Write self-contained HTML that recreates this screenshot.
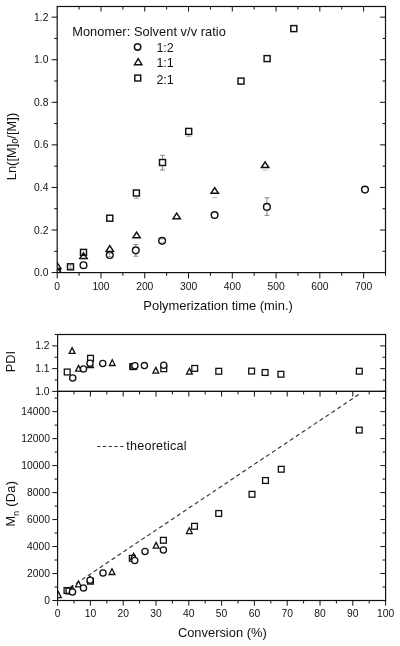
<!DOCTYPE html><html><head><meta charset="utf-8"><style>html,body{margin:0;padding:0;background:#fff;}svg{display:block;filter:grayscale(100%);}</style></head><body><svg width="400" height="646" viewBox="0 0 400 646" font-family="Liberation Sans, sans-serif" fill="#111">
<rect width="400" height="646" fill="#fff"/>
<defs><clipPath id="ct"><rect x="57.20" y="6.50" width="328.30" height="266.10"/></clipPath>
<clipPath id="cp"><rect x="57.60" y="334.50" width="328.00" height="56.90"/></clipPath>
<clipPath id="cm"><rect x="57.60" y="391.40" width="328.00" height="209.10"/></clipPath></defs>
<line x1="57.20" y1="272.60" x2="57.20" y2="278.40" stroke="#111" stroke-width="1.0" />
<line x1="79.09" y1="272.60" x2="79.09" y2="275.80" stroke="#111" stroke-width="1.0" />
<line x1="79.09" y1="6.50" x2="79.09" y2="9.50" stroke="#111" stroke-width="1.0" />
<line x1="100.97" y1="272.60" x2="100.97" y2="278.40" stroke="#111" stroke-width="1.0" />
<line x1="100.97" y1="6.50" x2="100.97" y2="11.50" stroke="#111" stroke-width="1.0" />
<line x1="122.86" y1="272.60" x2="122.86" y2="275.80" stroke="#111" stroke-width="1.0" />
<line x1="122.86" y1="6.50" x2="122.86" y2="9.50" stroke="#111" stroke-width="1.0" />
<line x1="144.75" y1="272.60" x2="144.75" y2="278.40" stroke="#111" stroke-width="1.0" />
<line x1="144.75" y1="6.50" x2="144.75" y2="11.50" stroke="#111" stroke-width="1.0" />
<line x1="166.63" y1="272.60" x2="166.63" y2="275.80" stroke="#111" stroke-width="1.0" />
<line x1="166.63" y1="6.50" x2="166.63" y2="9.50" stroke="#111" stroke-width="1.0" />
<line x1="188.52" y1="272.60" x2="188.52" y2="278.40" stroke="#111" stroke-width="1.0" />
<line x1="188.52" y1="6.50" x2="188.52" y2="11.50" stroke="#111" stroke-width="1.0" />
<line x1="210.41" y1="272.60" x2="210.41" y2="275.80" stroke="#111" stroke-width="1.0" />
<line x1="210.41" y1="6.50" x2="210.41" y2="9.50" stroke="#111" stroke-width="1.0" />
<line x1="232.29" y1="272.60" x2="232.29" y2="278.40" stroke="#111" stroke-width="1.0" />
<line x1="232.29" y1="6.50" x2="232.29" y2="11.50" stroke="#111" stroke-width="1.0" />
<line x1="254.18" y1="272.60" x2="254.18" y2="275.80" stroke="#111" stroke-width="1.0" />
<line x1="254.18" y1="6.50" x2="254.18" y2="9.50" stroke="#111" stroke-width="1.0" />
<line x1="276.07" y1="272.60" x2="276.07" y2="278.40" stroke="#111" stroke-width="1.0" />
<line x1="276.07" y1="6.50" x2="276.07" y2="11.50" stroke="#111" stroke-width="1.0" />
<line x1="297.95" y1="272.60" x2="297.95" y2="275.80" stroke="#111" stroke-width="1.0" />
<line x1="297.95" y1="6.50" x2="297.95" y2="9.50" stroke="#111" stroke-width="1.0" />
<line x1="319.84" y1="272.60" x2="319.84" y2="278.40" stroke="#111" stroke-width="1.0" />
<line x1="319.84" y1="6.50" x2="319.84" y2="11.50" stroke="#111" stroke-width="1.0" />
<line x1="341.73" y1="272.60" x2="341.73" y2="275.80" stroke="#111" stroke-width="1.0" />
<line x1="341.73" y1="6.50" x2="341.73" y2="9.50" stroke="#111" stroke-width="1.0" />
<line x1="363.61" y1="272.60" x2="363.61" y2="278.40" stroke="#111" stroke-width="1.0" />
<line x1="363.61" y1="6.50" x2="363.61" y2="11.50" stroke="#111" stroke-width="1.0" />
<line x1="385.50" y1="272.60" x2="385.50" y2="275.80" stroke="#111" stroke-width="1.0" />
<line x1="51.60" y1="272.60" x2="57.20" y2="272.60" stroke="#111" stroke-width="1.0" />
<line x1="54.20" y1="251.31" x2="57.20" y2="251.31" stroke="#111" stroke-width="1.0" />
<line x1="382.50" y1="251.31" x2="385.50" y2="251.31" stroke="#111" stroke-width="1.0" />
<line x1="51.60" y1="230.02" x2="57.20" y2="230.02" stroke="#111" stroke-width="1.0" />
<line x1="379.90" y1="230.02" x2="385.50" y2="230.02" stroke="#111" stroke-width="1.0" />
<line x1="54.20" y1="208.74" x2="57.20" y2="208.74" stroke="#111" stroke-width="1.0" />
<line x1="382.50" y1="208.74" x2="385.50" y2="208.74" stroke="#111" stroke-width="1.0" />
<line x1="51.60" y1="187.45" x2="57.20" y2="187.45" stroke="#111" stroke-width="1.0" />
<line x1="379.90" y1="187.45" x2="385.50" y2="187.45" stroke="#111" stroke-width="1.0" />
<line x1="54.20" y1="166.16" x2="57.20" y2="166.16" stroke="#111" stroke-width="1.0" />
<line x1="382.50" y1="166.16" x2="385.50" y2="166.16" stroke="#111" stroke-width="1.0" />
<line x1="51.60" y1="144.87" x2="57.20" y2="144.87" stroke="#111" stroke-width="1.0" />
<line x1="379.90" y1="144.87" x2="385.50" y2="144.87" stroke="#111" stroke-width="1.0" />
<line x1="54.20" y1="123.58" x2="57.20" y2="123.58" stroke="#111" stroke-width="1.0" />
<line x1="382.50" y1="123.58" x2="385.50" y2="123.58" stroke="#111" stroke-width="1.0" />
<line x1="51.60" y1="102.30" x2="57.20" y2="102.30" stroke="#111" stroke-width="1.0" />
<line x1="379.90" y1="102.30" x2="385.50" y2="102.30" stroke="#111" stroke-width="1.0" />
<line x1="54.20" y1="81.01" x2="57.20" y2="81.01" stroke="#111" stroke-width="1.0" />
<line x1="382.50" y1="81.01" x2="385.50" y2="81.01" stroke="#111" stroke-width="1.0" />
<line x1="51.60" y1="59.72" x2="57.20" y2="59.72" stroke="#111" stroke-width="1.0" />
<line x1="379.90" y1="59.72" x2="385.50" y2="59.72" stroke="#111" stroke-width="1.0" />
<line x1="54.20" y1="38.43" x2="57.20" y2="38.43" stroke="#111" stroke-width="1.0" />
<line x1="382.50" y1="38.43" x2="385.50" y2="38.43" stroke="#111" stroke-width="1.0" />
<line x1="51.60" y1="17.14" x2="57.20" y2="17.14" stroke="#111" stroke-width="1.0" />
<line x1="379.90" y1="17.14" x2="385.50" y2="17.14" stroke="#111" stroke-width="1.0" />
<text x="57.20" y="289.60" font-size="10.3" text-anchor="middle" >0</text>
<text x="100.97" y="289.60" font-size="10.3" text-anchor="middle" >100</text>
<text x="144.75" y="289.60" font-size="10.3" text-anchor="middle" >200</text>
<text x="188.52" y="289.60" font-size="10.3" text-anchor="middle" >300</text>
<text x="232.29" y="289.60" font-size="10.3" text-anchor="middle" >400</text>
<text x="276.07" y="289.60" font-size="10.3" text-anchor="middle" >500</text>
<text x="319.84" y="289.60" font-size="10.3" text-anchor="middle" >600</text>
<text x="363.61" y="289.60" font-size="10.3" text-anchor="middle" >700</text>
<text x="48.40" y="276.20" font-size="10.3" text-anchor="end" >0.0</text>
<text x="48.40" y="233.62" font-size="10.3" text-anchor="end" >0.2</text>
<text x="48.40" y="191.05" font-size="10.3" text-anchor="end" >0.4</text>
<text x="48.40" y="148.47" font-size="10.3" text-anchor="end" >0.6</text>
<text x="48.40" y="105.90" font-size="10.3" text-anchor="end" >0.8</text>
<text x="48.40" y="63.32" font-size="10.3" text-anchor="end" >1.0</text>
<text x="48.40" y="20.74" font-size="10.3" text-anchor="end" >1.2</text>
<rect x="57.20" y="6.50" width="328.30" height="266.10" fill="none" stroke="#111" stroke-width="1.2"/>
<text x="218.10" y="310.30" font-size="12.95" text-anchor="middle" >Polymerization time (min.)</text>
<text transform="translate(15.5,180.3) rotate(-90)" font-size="12.8" letter-spacing="0.08">Ln([M]<tspan font-size="8.5" dy="2.9">0</tspan><tspan dy="-2.9">/[M])</tspan></text>
<text x="72.20" y="36.40" font-size="12.8" text-anchor="start" letter-spacing="0.06">Monomer: Solvent v/v ratio</text>
<circle cx="137.60" cy="47.00" r="3.2" fill="none" stroke="#111" stroke-width="1.45"/>
<path d="M138.20,58.68 L141.90,64.68 L134.50,64.68 Z" fill="none" stroke="#111" stroke-width="1.45" stroke-linejoin="miter"/>
<rect x="134.80" y="75.10" width="5.90" height="5.90" fill="none" stroke="#111" stroke-width="1.45"/>
<text x="156.40" y="51.80" font-size="12.5" text-anchor="start" >1:2</text>
<text x="156.40" y="67.40" font-size="12.5" text-anchor="start" >1:1</text>
<text x="156.40" y="83.50" font-size="12.5" text-anchor="start" >2:1</text>
<g clip-path="url(#ct)">
<line x1="135.80" y1="244.50" x2="135.80" y2="246.40" stroke="#777" stroke-width="0.9" />
<line x1="133.40" y1="244.50" x2="138.20" y2="244.50" stroke="#777" stroke-width="0.9" />
<line x1="135.80" y1="254.20" x2="135.80" y2="256.20" stroke="#777" stroke-width="0.9" />
<line x1="133.40" y1="256.20" x2="138.20" y2="256.20" stroke="#777" stroke-width="0.9" />
<line x1="162.50" y1="155.30" x2="162.50" y2="158.60" stroke="#777" stroke-width="0.9" />
<line x1="160.10" y1="155.30" x2="164.90" y2="155.30" stroke="#777" stroke-width="0.9" />
<line x1="162.50" y1="166.40" x2="162.50" y2="170.00" stroke="#777" stroke-width="0.9" />
<line x1="160.10" y1="170.00" x2="164.90" y2="170.00" stroke="#777" stroke-width="0.9" />
<line x1="266.90" y1="197.80" x2="266.90" y2="203.00" stroke="#777" stroke-width="0.9" />
<line x1="264.50" y1="197.80" x2="269.30" y2="197.80" stroke="#777" stroke-width="0.9" />
<line x1="266.90" y1="210.80" x2="266.90" y2="215.40" stroke="#777" stroke-width="0.9" />
<line x1="264.50" y1="215.40" x2="269.30" y2="215.40" stroke="#777" stroke-width="0.9" />
<line x1="188.70" y1="135.30" x2="188.70" y2="136.30" stroke="#999" stroke-width="0.9" />
<line x1="186.30" y1="136.30" x2="191.10" y2="136.30" stroke="#999" stroke-width="0.9" />
<line x1="136.40" y1="196.90" x2="136.40" y2="198.40" stroke="#999" stroke-width="0.9" />
<line x1="134.00" y1="198.40" x2="138.80" y2="198.40" stroke="#999" stroke-width="0.9" />
<line x1="262.70" y1="170.10" x2="267.50" y2="170.10" stroke="#aaa" stroke-width="0.9" />
<line x1="212.30" y1="197.60" x2="217.10" y2="197.60" stroke="#aaa" stroke-width="0.9" />
<line x1="160.10" y1="239.00" x2="164.10" y2="239.00" stroke="#aaa" stroke-width="0.9" />
<line x1="160.10" y1="242.60" x2="164.10" y2="242.60" stroke="#aaa" stroke-width="0.9" />
<line x1="109.80" y1="253.40" x2="109.80" y2="255.00" stroke="#999" stroke-width="0.9" />
<line x1="107.80" y1="253.40" x2="111.80" y2="253.40" stroke="#999" stroke-width="0.9" />
<line x1="109.80" y1="255.00" x2="109.80" y2="256.60" stroke="#999" stroke-width="0.9" />
<line x1="107.80" y1="256.60" x2="111.80" y2="256.60" stroke="#999" stroke-width="0.9" />
<line x1="81.50" y1="254.50" x2="85.50" y2="254.50" stroke="#aaa" stroke-width="0.9" />
<line x1="81.50" y1="259.00" x2="85.50" y2="259.00" stroke="#aaa" stroke-width="0.9" />
<line x1="70.50" y1="265.20" x2="70.50" y2="266.80" stroke="#999" stroke-width="0.9" />
<line x1="68.70" y1="265.20" x2="72.30" y2="265.20" stroke="#999" stroke-width="0.9" />
<line x1="70.50" y1="266.80" x2="70.50" y2="268.40" stroke="#999" stroke-width="0.9" />
<line x1="68.70" y1="268.40" x2="72.30" y2="268.40" stroke="#999" stroke-width="0.9" />
<circle cx="57.20" cy="272.60" r="3.35" fill="none" stroke="#111" stroke-width="1.45"/>
<circle cx="83.50" cy="265.20" r="3.35" fill="none" stroke="#111" stroke-width="1.45"/>
<circle cx="109.80" cy="255.00" r="3.35" fill="none" stroke="#111" stroke-width="1.45"/>
<circle cx="135.80" cy="250.30" r="3.35" fill="none" stroke="#111" stroke-width="1.45"/>
<circle cx="162.10" cy="240.80" r="3.35" fill="none" stroke="#111" stroke-width="1.45"/>
<circle cx="214.60" cy="215.00" r="3.35" fill="none" stroke="#111" stroke-width="1.45"/>
<circle cx="266.90" cy="206.90" r="3.35" fill="none" stroke="#111" stroke-width="1.45"/>
<circle cx="365.00" cy="189.60" r="3.35" fill="none" stroke="#111" stroke-width="1.45"/>
<path d="M57.30,262.77 L61.00,268.47 L53.60,268.47 Z" fill="none" stroke="#111" stroke-width="1.45" stroke-linejoin="miter"/>
<path d="M83.50,252.77 L87.20,258.47 L79.80,258.47 Z" fill="none" stroke="#111" stroke-width="1.45" stroke-linejoin="miter"/>
<path d="M109.80,245.67 L113.50,251.37 L106.10,251.37 Z" fill="none" stroke="#111" stroke-width="1.45" stroke-linejoin="miter"/>
<path d="M136.60,232.07 L140.30,237.77 L132.90,237.77 Z" fill="none" stroke="#111" stroke-width="1.45" stroke-linejoin="miter"/>
<path d="M176.70,213.07 L180.40,218.77 L173.00,218.77 Z" fill="none" stroke="#111" stroke-width="1.45" stroke-linejoin="miter"/>
<path d="M214.70,187.57 L218.40,193.27 L211.00,193.27 Z" fill="none" stroke="#111" stroke-width="1.45" stroke-linejoin="miter"/>
<path d="M265.10,161.87 L268.80,167.57 L261.40,167.57 Z" fill="none" stroke="#111" stroke-width="1.45" stroke-linejoin="miter"/>
<rect x="54.20" y="269.60" width="6.00" height="6.00" fill="none" stroke="#111" stroke-width="1.45"/>
<rect x="67.50" y="263.80" width="6.00" height="6.00" fill="none" stroke="#111" stroke-width="1.45"/>
<rect x="80.50" y="249.40" width="6.00" height="6.00" fill="none" stroke="#111" stroke-width="1.45"/>
<rect x="106.80" y="215.20" width="6.00" height="6.00" fill="none" stroke="#111" stroke-width="1.45"/>
<rect x="133.40" y="190.00" width="6.00" height="6.00" fill="none" stroke="#111" stroke-width="1.45"/>
<rect x="159.50" y="159.50" width="6.00" height="6.00" fill="none" stroke="#111" stroke-width="1.45"/>
<rect x="185.70" y="128.40" width="6.00" height="6.00" fill="none" stroke="#111" stroke-width="1.45"/>
<rect x="238.00" y="78.10" width="6.00" height="6.00" fill="none" stroke="#111" stroke-width="1.45"/>
<rect x="264.10" y="55.60" width="6.00" height="6.00" fill="none" stroke="#111" stroke-width="1.45"/>
<rect x="290.80" y="25.60" width="6.00" height="6.00" fill="none" stroke="#111" stroke-width="1.45"/>
</g>
<line x1="52.20" y1="391.40" x2="57.60" y2="391.40" stroke="#111" stroke-width="1.0" />
<line x1="380.20" y1="391.40" x2="385.60" y2="391.40" stroke="#111" stroke-width="1.0" />
<line x1="54.60" y1="380.02" x2="57.60" y2="380.02" stroke="#111" stroke-width="1.0" />
<line x1="382.60" y1="380.02" x2="385.60" y2="380.02" stroke="#111" stroke-width="1.0" />
<line x1="52.20" y1="368.64" x2="57.60" y2="368.64" stroke="#111" stroke-width="1.0" />
<line x1="380.20" y1="368.64" x2="385.60" y2="368.64" stroke="#111" stroke-width="1.0" />
<line x1="54.60" y1="357.26" x2="57.60" y2="357.26" stroke="#111" stroke-width="1.0" />
<line x1="382.60" y1="357.26" x2="385.60" y2="357.26" stroke="#111" stroke-width="1.0" />
<line x1="52.20" y1="345.88" x2="57.60" y2="345.88" stroke="#111" stroke-width="1.0" />
<line x1="380.20" y1="345.88" x2="385.60" y2="345.88" stroke="#111" stroke-width="1.0" />
<line x1="54.60" y1="334.50" x2="57.60" y2="334.50" stroke="#111" stroke-width="1.0" />
<line x1="382.60" y1="334.50" x2="385.60" y2="334.50" stroke="#111" stroke-width="1.0" />
<text x="49.60" y="395.00" font-size="10.3" text-anchor="end" >1.0</text>
<text x="49.60" y="372.24" font-size="10.3" text-anchor="end" >1.1</text>
<text x="49.60" y="349.48" font-size="10.3" text-anchor="end" >1.2</text>
<rect x="57.60" y="334.50" width="328.00" height="56.90" fill="none" stroke="#111" stroke-width="1.2"/>
<text transform="translate(15.3,372.2) rotate(-90)" font-size="12.8">PDI</text>
<g clip-path="url(#cp)">
<path d="M72.10,347.60 L75.00,353.40 L69.20,353.40 Z" fill="none" stroke="#111" stroke-width="1.3" stroke-linejoin="miter"/>
<path d="M78.50,365.40 L81.40,371.20 L75.60,371.20 Z" fill="none" stroke="#111" stroke-width="1.3" stroke-linejoin="miter"/>
<path d="M90.50,361.70 L93.40,367.50 L87.60,367.50 Z" fill="none" stroke="#111" stroke-width="1.3" stroke-linejoin="miter"/>
<path d="M112.25,359.70 L115.15,365.50 L109.35,365.50 Z" fill="none" stroke="#111" stroke-width="1.3" stroke-linejoin="miter"/>
<path d="M155.80,367.40 L158.70,373.20 L152.90,373.20 Z" fill="none" stroke="#111" stroke-width="1.3" stroke-linejoin="miter"/>
<path d="M189.40,368.40 L192.30,374.20 L186.50,374.20 Z" fill="none" stroke="#111" stroke-width="1.3" stroke-linejoin="miter"/>
<rect x="64.30" y="369.10" width="5.80" height="5.80" fill="none" stroke="#111" stroke-width="1.3"/>
<rect x="87.60" y="355.40" width="5.80" height="5.80" fill="none" stroke="#111" stroke-width="1.3"/>
<rect x="129.80" y="363.70" width="5.80" height="5.80" fill="none" stroke="#111" stroke-width="1.3"/>
<rect x="130.80" y="363.60" width="5.80" height="5.80" fill="none" stroke="#111" stroke-width="1.3"/>
<rect x="160.85" y="365.85" width="5.80" height="5.80" fill="none" stroke="#111" stroke-width="1.3"/>
<rect x="191.80" y="365.50" width="5.80" height="5.80" fill="none" stroke="#111" stroke-width="1.3"/>
<rect x="215.85" y="368.35" width="5.80" height="5.80" fill="none" stroke="#111" stroke-width="1.3"/>
<rect x="248.70" y="368.20" width="5.80" height="5.80" fill="none" stroke="#111" stroke-width="1.3"/>
<rect x="262.20" y="369.60" width="5.80" height="5.80" fill="none" stroke="#111" stroke-width="1.3"/>
<rect x="278.00" y="371.35" width="5.80" height="5.80" fill="none" stroke="#111" stroke-width="1.3"/>
<rect x="356.40" y="368.30" width="5.80" height="5.80" fill="none" stroke="#111" stroke-width="1.3"/>
<circle cx="72.70" cy="378.00" r="3.1" fill="#fff" stroke="#111" stroke-width="1.3"/>
<circle cx="83.50" cy="369.00" r="3.1" fill="#fff" stroke="#111" stroke-width="1.3"/>
<circle cx="90.00" cy="363.30" r="3.1" fill="#fff" stroke="#111" stroke-width="1.3"/>
<circle cx="102.75" cy="363.50" r="3.1" fill="#fff" stroke="#111" stroke-width="1.3"/>
<circle cx="134.90" cy="365.70" r="3.1" fill="#fff" stroke="#111" stroke-width="1.3"/>
<circle cx="144.40" cy="365.60" r="3.1" fill="#fff" stroke="#111" stroke-width="1.3"/>
<circle cx="163.75" cy="365.25" r="3.1" fill="#fff" stroke="#111" stroke-width="1.3"/>
</g>
<line x1="57.60" y1="600.50" x2="57.60" y2="605.70" stroke="#111" stroke-width="1.0" />
<line x1="57.60" y1="391.40" x2="57.60" y2="396.60" stroke="#111" stroke-width="1.0" />
<line x1="74.00" y1="600.50" x2="74.00" y2="603.50" stroke="#111" stroke-width="1.0" />
<line x1="74.00" y1="391.40" x2="74.00" y2="394.40" stroke="#111" stroke-width="1.0" />
<line x1="90.40" y1="600.50" x2="90.40" y2="605.70" stroke="#111" stroke-width="1.0" />
<line x1="90.40" y1="391.40" x2="90.40" y2="396.60" stroke="#111" stroke-width="1.0" />
<line x1="106.80" y1="600.50" x2="106.80" y2="603.50" stroke="#111" stroke-width="1.0" />
<line x1="106.80" y1="391.40" x2="106.80" y2="394.40" stroke="#111" stroke-width="1.0" />
<line x1="123.20" y1="600.50" x2="123.20" y2="605.70" stroke="#111" stroke-width="1.0" />
<line x1="123.20" y1="391.40" x2="123.20" y2="396.60" stroke="#111" stroke-width="1.0" />
<line x1="139.60" y1="600.50" x2="139.60" y2="603.50" stroke="#111" stroke-width="1.0" />
<line x1="139.60" y1="391.40" x2="139.60" y2="394.40" stroke="#111" stroke-width="1.0" />
<line x1="156.00" y1="600.50" x2="156.00" y2="605.70" stroke="#111" stroke-width="1.0" />
<line x1="156.00" y1="391.40" x2="156.00" y2="396.60" stroke="#111" stroke-width="1.0" />
<line x1="172.40" y1="600.50" x2="172.40" y2="603.50" stroke="#111" stroke-width="1.0" />
<line x1="172.40" y1="391.40" x2="172.40" y2="394.40" stroke="#111" stroke-width="1.0" />
<line x1="188.80" y1="600.50" x2="188.80" y2="605.70" stroke="#111" stroke-width="1.0" />
<line x1="188.80" y1="391.40" x2="188.80" y2="396.60" stroke="#111" stroke-width="1.0" />
<line x1="205.20" y1="600.50" x2="205.20" y2="603.50" stroke="#111" stroke-width="1.0" />
<line x1="205.20" y1="391.40" x2="205.20" y2="394.40" stroke="#111" stroke-width="1.0" />
<line x1="221.60" y1="600.50" x2="221.60" y2="605.70" stroke="#111" stroke-width="1.0" />
<line x1="221.60" y1="391.40" x2="221.60" y2="396.60" stroke="#111" stroke-width="1.0" />
<line x1="238.00" y1="600.50" x2="238.00" y2="603.50" stroke="#111" stroke-width="1.0" />
<line x1="238.00" y1="391.40" x2="238.00" y2="394.40" stroke="#111" stroke-width="1.0" />
<line x1="254.40" y1="600.50" x2="254.40" y2="605.70" stroke="#111" stroke-width="1.0" />
<line x1="254.40" y1="391.40" x2="254.40" y2="396.60" stroke="#111" stroke-width="1.0" />
<line x1="270.80" y1="600.50" x2="270.80" y2="603.50" stroke="#111" stroke-width="1.0" />
<line x1="270.80" y1="391.40" x2="270.80" y2="394.40" stroke="#111" stroke-width="1.0" />
<line x1="287.20" y1="600.50" x2="287.20" y2="605.70" stroke="#111" stroke-width="1.0" />
<line x1="287.20" y1="391.40" x2="287.20" y2="396.60" stroke="#111" stroke-width="1.0" />
<line x1="303.60" y1="600.50" x2="303.60" y2="603.50" stroke="#111" stroke-width="1.0" />
<line x1="303.60" y1="391.40" x2="303.60" y2="394.40" stroke="#111" stroke-width="1.0" />
<line x1="320.00" y1="600.50" x2="320.00" y2="605.70" stroke="#111" stroke-width="1.0" />
<line x1="320.00" y1="391.40" x2="320.00" y2="396.60" stroke="#111" stroke-width="1.0" />
<line x1="336.40" y1="600.50" x2="336.40" y2="603.50" stroke="#111" stroke-width="1.0" />
<line x1="336.40" y1="391.40" x2="336.40" y2="394.40" stroke="#111" stroke-width="1.0" />
<line x1="352.80" y1="600.50" x2="352.80" y2="605.70" stroke="#111" stroke-width="1.0" />
<line x1="352.80" y1="391.40" x2="352.80" y2="396.60" stroke="#111" stroke-width="1.0" />
<line x1="369.20" y1="600.50" x2="369.20" y2="603.50" stroke="#111" stroke-width="1.0" />
<line x1="369.20" y1="391.40" x2="369.20" y2="394.40" stroke="#111" stroke-width="1.0" />
<line x1="385.60" y1="600.50" x2="385.60" y2="605.70" stroke="#111" stroke-width="1.0" />
<line x1="385.60" y1="391.40" x2="385.60" y2="396.60" stroke="#111" stroke-width="1.0" />
<line x1="52.40" y1="600.50" x2="57.60" y2="600.50" stroke="#111" stroke-width="1.0" />
<line x1="380.40" y1="600.50" x2="385.60" y2="600.50" stroke="#111" stroke-width="1.0" />
<line x1="54.60" y1="587.01" x2="57.60" y2="587.01" stroke="#111" stroke-width="1.0" />
<line x1="382.60" y1="587.01" x2="385.60" y2="587.01" stroke="#111" stroke-width="1.0" />
<line x1="52.40" y1="573.52" x2="57.60" y2="573.52" stroke="#111" stroke-width="1.0" />
<line x1="380.40" y1="573.52" x2="385.60" y2="573.52" stroke="#111" stroke-width="1.0" />
<line x1="54.60" y1="560.03" x2="57.60" y2="560.03" stroke="#111" stroke-width="1.0" />
<line x1="382.60" y1="560.03" x2="385.60" y2="560.03" stroke="#111" stroke-width="1.0" />
<line x1="52.40" y1="546.54" x2="57.60" y2="546.54" stroke="#111" stroke-width="1.0" />
<line x1="380.40" y1="546.54" x2="385.60" y2="546.54" stroke="#111" stroke-width="1.0" />
<line x1="54.60" y1="533.05" x2="57.60" y2="533.05" stroke="#111" stroke-width="1.0" />
<line x1="382.60" y1="533.05" x2="385.60" y2="533.05" stroke="#111" stroke-width="1.0" />
<line x1="52.40" y1="519.56" x2="57.60" y2="519.56" stroke="#111" stroke-width="1.0" />
<line x1="380.40" y1="519.56" x2="385.60" y2="519.56" stroke="#111" stroke-width="1.0" />
<line x1="54.60" y1="506.07" x2="57.60" y2="506.07" stroke="#111" stroke-width="1.0" />
<line x1="382.60" y1="506.07" x2="385.60" y2="506.07" stroke="#111" stroke-width="1.0" />
<line x1="52.40" y1="492.58" x2="57.60" y2="492.58" stroke="#111" stroke-width="1.0" />
<line x1="380.40" y1="492.58" x2="385.60" y2="492.58" stroke="#111" stroke-width="1.0" />
<line x1="54.60" y1="479.09" x2="57.60" y2="479.09" stroke="#111" stroke-width="1.0" />
<line x1="382.60" y1="479.09" x2="385.60" y2="479.09" stroke="#111" stroke-width="1.0" />
<line x1="52.40" y1="465.60" x2="57.60" y2="465.60" stroke="#111" stroke-width="1.0" />
<line x1="380.40" y1="465.60" x2="385.60" y2="465.60" stroke="#111" stroke-width="1.0" />
<line x1="54.60" y1="452.11" x2="57.60" y2="452.11" stroke="#111" stroke-width="1.0" />
<line x1="382.60" y1="452.11" x2="385.60" y2="452.11" stroke="#111" stroke-width="1.0" />
<line x1="52.40" y1="438.62" x2="57.60" y2="438.62" stroke="#111" stroke-width="1.0" />
<line x1="380.40" y1="438.62" x2="385.60" y2="438.62" stroke="#111" stroke-width="1.0" />
<line x1="54.60" y1="425.13" x2="57.60" y2="425.13" stroke="#111" stroke-width="1.0" />
<line x1="382.60" y1="425.13" x2="385.60" y2="425.13" stroke="#111" stroke-width="1.0" />
<line x1="52.40" y1="411.64" x2="57.60" y2="411.64" stroke="#111" stroke-width="1.0" />
<line x1="380.40" y1="411.64" x2="385.60" y2="411.64" stroke="#111" stroke-width="1.0" />
<line x1="54.60" y1="398.15" x2="57.60" y2="398.15" stroke="#111" stroke-width="1.0" />
<line x1="382.60" y1="398.15" x2="385.60" y2="398.15" stroke="#111" stroke-width="1.0" />
<text x="57.60" y="616.90" font-size="10.3" text-anchor="middle" >0</text>
<text x="90.40" y="616.90" font-size="10.3" text-anchor="middle" >10</text>
<text x="123.20" y="616.90" font-size="10.3" text-anchor="middle" >20</text>
<text x="156.00" y="616.90" font-size="10.3" text-anchor="middle" >30</text>
<text x="188.80" y="616.90" font-size="10.3" text-anchor="middle" >40</text>
<text x="221.60" y="616.90" font-size="10.3" text-anchor="middle" >50</text>
<text x="254.40" y="616.90" font-size="10.3" text-anchor="middle" >60</text>
<text x="287.20" y="616.90" font-size="10.3" text-anchor="middle" >70</text>
<text x="320.00" y="616.90" font-size="10.3" text-anchor="middle" >80</text>
<text x="352.80" y="616.90" font-size="10.3" text-anchor="middle" >90</text>
<text x="385.60" y="616.90" font-size="10.3" text-anchor="middle" >100</text>
<text x="50.00" y="604.10" font-size="10.3" text-anchor="end" >0</text>
<text x="50.00" y="577.12" font-size="10.3" text-anchor="end" >2000</text>
<text x="50.00" y="550.14" font-size="10.3" text-anchor="end" >4000</text>
<text x="50.00" y="523.16" font-size="10.3" text-anchor="end" >6000</text>
<text x="50.00" y="496.18" font-size="10.3" text-anchor="end" >8000</text>
<text x="50.00" y="469.20" font-size="10.3" text-anchor="end" >10000</text>
<text x="50.00" y="442.22" font-size="10.3" text-anchor="end" >12000</text>
<text x="50.00" y="415.24" font-size="10.3" text-anchor="end" >14000</text>
<rect x="57.60" y="391.40" width="328.00" height="209.10" fill="none" stroke="#111" stroke-width="1.2"/>
<text x="222.30" y="637.10" font-size="12.9" text-anchor="middle" >Conversion (%)</text>
<text transform="translate(15.4,526.6) rotate(-90)" font-size="12.8" letter-spacing="0.3">M<tspan font-size="8.5" dy="3.2">n</tspan><tspan dy="-3.2"> (Da)</tspan></text>
<line x1="97.2" y1="446.5" x2="124" y2="446.5" stroke="#333" stroke-width="1" stroke-dasharray="3.25 2.5"/>
<text x="126.30" y="450.00" font-size="12.6" text-anchor="start" letter-spacing="0.22">theoretical</text>
<g clip-path="url(#cm)">
<line x1="358.75" y1="394.50" x2="68.00" y2="588.93" stroke="#333" stroke-width="1.15" stroke-dasharray="4.15 3.0"/>
<path d="M58.40,591.80 L61.30,597.60 L55.50,597.60 Z" fill="none" stroke="#111" stroke-width="1.3" stroke-linejoin="miter"/>
<path d="M72.30,586.20 L75.20,592.00 L69.40,592.00 Z" fill="none" stroke="#111" stroke-width="1.3" stroke-linejoin="miter"/>
<path d="M78.50,581.00 L81.40,586.80 L75.60,586.80 Z" fill="none" stroke="#111" stroke-width="1.3" stroke-linejoin="miter"/>
<path d="M90.10,576.30 L93.00,582.10 L87.20,582.10 Z" fill="none" stroke="#111" stroke-width="1.3" stroke-linejoin="miter"/>
<path d="M112.00,568.70 L114.90,574.50 L109.10,574.50 Z" fill="none" stroke="#111" stroke-width="1.3" stroke-linejoin="miter"/>
<path d="M133.60,553.20 L136.50,559.00 L130.70,559.00 Z" fill="none" stroke="#111" stroke-width="1.3" stroke-linejoin="miter"/>
<path d="M156.10,542.40 L159.00,548.20 L153.20,548.20 Z" fill="none" stroke="#111" stroke-width="1.3" stroke-linejoin="miter"/>
<path d="M189.30,527.80 L192.20,533.60 L186.40,533.60 Z" fill="none" stroke="#111" stroke-width="1.3" stroke-linejoin="miter"/>
<rect x="64.10" y="587.60" width="5.80" height="5.80" fill="none" stroke="#111" stroke-width="1.3"/>
<rect x="66.10" y="588.10" width="5.80" height="5.80" fill="none" stroke="#111" stroke-width="1.3"/>
<rect x="87.60" y="578.30" width="5.80" height="5.80" fill="none" stroke="#111" stroke-width="1.3"/>
<rect x="129.40" y="555.40" width="5.80" height="5.80" fill="none" stroke="#111" stroke-width="1.3"/>
<rect x="160.50" y="537.40" width="5.80" height="5.80" fill="none" stroke="#111" stroke-width="1.3"/>
<rect x="191.60" y="523.40" width="5.80" height="5.80" fill="none" stroke="#111" stroke-width="1.3"/>
<rect x="215.80" y="510.60" width="5.80" height="5.80" fill="none" stroke="#111" stroke-width="1.3"/>
<rect x="249.10" y="491.40" width="5.80" height="5.80" fill="none" stroke="#111" stroke-width="1.3"/>
<rect x="262.60" y="477.60" width="5.80" height="5.80" fill="none" stroke="#111" stroke-width="1.3"/>
<rect x="278.35" y="466.35" width="5.80" height="5.80" fill="none" stroke="#111" stroke-width="1.3"/>
<rect x="356.35" y="427.20" width="5.80" height="5.80" fill="none" stroke="#111" stroke-width="1.3"/>
<circle cx="72.50" cy="592.00" r="3.1" fill="#fff" stroke="#111" stroke-width="1.3"/>
<circle cx="83.50" cy="588.00" r="3.1" fill="#fff" stroke="#111" stroke-width="1.3"/>
<circle cx="90.10" cy="580.25" r="3.1" fill="#fff" stroke="#111" stroke-width="1.3"/>
<circle cx="103.00" cy="573.00" r="3.1" fill="#fff" stroke="#111" stroke-width="1.3"/>
<circle cx="134.75" cy="560.50" r="3.1" fill="#fff" stroke="#111" stroke-width="1.3"/>
<circle cx="145.00" cy="551.50" r="3.1" fill="#fff" stroke="#111" stroke-width="1.3"/>
<circle cx="163.40" cy="550.00" r="3.1" fill="#fff" stroke="#111" stroke-width="1.3"/>
</g>
</svg></body></html>
